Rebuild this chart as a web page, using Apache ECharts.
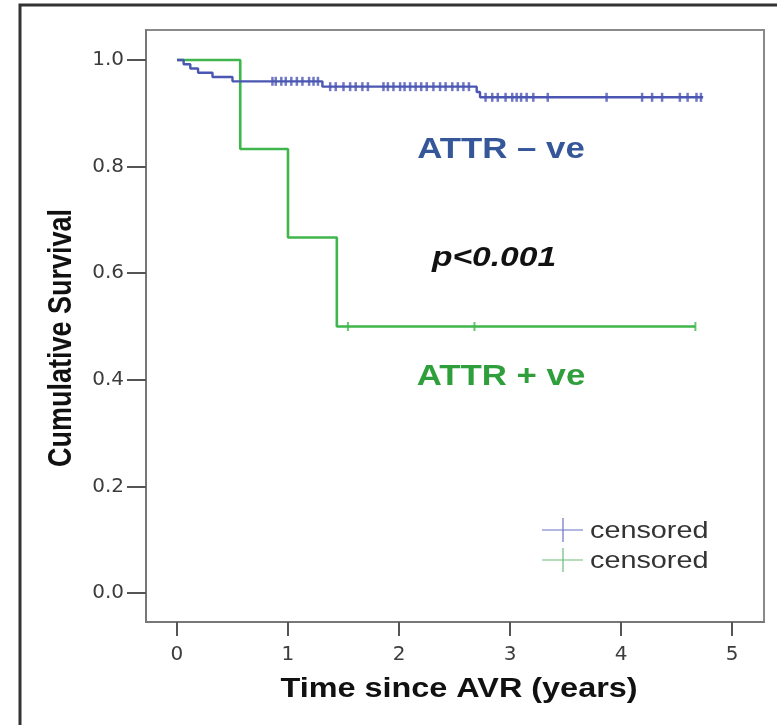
<!DOCTYPE html>
<html>
<head>
<meta charset="utf-8">
<script src="https://cdn.jsdelivr.net/npm/echarts@6/dist/echarts.min.js"></script>
<style>
  html, body { margin: 0; padding: 0; background: #fff; }
  #chart { width: 777px; height: 725px; }
</style>
</head>
<body>
<div id="chart"></div>
<script>
// Kaplan-Meier estimates, time in years since AVR
const negTimes = [0, 0.06, 0.12, 0.19, 0.32, 0.50, 1.31, 2.70, 2.73, 4.74];
const negSurv  = [1.0, 0.992, 0.984, 0.976, 0.968, 0.960, 0.950, 0.940, 0.930, 0.930];
const posTimes = [0, 0.57, 1.00, 1.44, 4.67];
const posSurv  = [1.0, 0.833, 0.667, 0.5, 0.5];

// censoring times
const negCensored = [0.86, 0.89, 0.94, 0.98, 1.03, 1.08, 1.13, 1.19, 1.23, 1.27,
  1.38, 1.43, 1.50, 1.56, 1.61, 1.67, 1.72, 1.86, 1.90, 1.95, 2.01, 2.05, 2.10,
  2.15, 2.20, 2.25, 2.31, 2.37, 2.42, 2.48, 2.53, 2.58, 2.63,
  2.78, 2.84, 2.89, 2.96, 3.02, 3.06, 3.10, 3.15, 3.21, 3.34, 3.87,
  4.19, 4.28, 4.37, 4.53, 4.60, 4.68, 4.72];
const posCensored = [1.54, 2.68, 4.67];

const xTicks = [0, 1, 2, 3, 4, 5];
const yTicks = [0, 0.2, 0.4, 0.6, 0.8, 1.0];

const negColor = '#4b56b3';
const posColor = '#3fb64c';

function curve(times, surv) {
  return times.map((t, i) => [t, surv[i]]);
}
// survival level of a step curve at time t
function levelAt(times, surv, t) {
  let s = surv[0];
  for (let i = 0; i < times.length; i++) {
    if (times[i] <= t) s = surv[i];
  }
  return s;
}
function marks(cens, times, surv) {
  return cens.map(t => [t, levelAt(times, surv, t)]);
}

const chart = echarts.init(document.getElementById('chart'), null, { renderer: 'canvas' });

const txt = (o) => Object.assign({ type: 'text', silent: true }, o);

chart.setOption({
  backgroundColor: '#ffffff',
  animation: false,
  grid: {
    left: 146, top: 30, width: 618, height: 592,
    show: true, borderColor: '#8a8a8a', borderWidth: 2, backgroundColor: '#ffffff'
  },
  xAxis: {
    type: 'value', min: -0.279, max: 5.288,
    splitLine: { show: false },
    axisLine: { show: true, onZero: false, lineStyle: { color: '#777', width: 2 } },
    axisTick: { show: true, customValues: xTicks, length: 14, lineStyle: { color: '#555', width: 2 } },
    axisLabel: {
      customValues: xTicks, margin: 23,
      fontFamily: 'DejaVu Sans', fontSize: 20, color: '#3c3c3c'
    }
  },
  yAxis: {
    type: 'value', min: -0.0544, max: 1.0563,
    splitLine: { show: false },
    axisLine: { show: true, onZero: false, lineStyle: { color: '#777', width: 2 } },
    axisTick: { show: true, customValues: yTicks, length: 19, lineStyle: { color: '#555', width: 2 } },
    axisLabel: {
      customValues: yTicks, margin: 22,
      fontFamily: 'DejaVu Sans', fontSize: 20, color: '#3c3c3c',
      formatter: v => v.toFixed(1)
    }
  },
  series: [
    {
      name: 'ATTR – ve', type: 'line', step: 'end', showSymbol: false,
      data: curve(negTimes, negSurv),
      lineStyle: { color: negColor, width: 2.4 }, z: 3
    },
    {
      name: 'ATTR + ve', type: 'line', step: 'end', showSymbol: false,
      data: curve(posTimes, posSurv),
      lineStyle: { color: posColor, width: 2.6 }, z: 2
    },
    {
      name: 'censored ATTR – ve', type: 'scatter', symbol: 'rect', symbolSize: [2.5, 9],
      data: marks(negCensored, negTimes, negSurv),
      itemStyle: { color: negColor }, z: 4
    },
    {
      name: 'censored ATTR + ve', type: 'scatter', symbol: 'rect', symbolSize: [2, 9],
      data: marks(posCensored, posTimes, posSurv),
      itemStyle: { color: posColor }, z: 4
    }
  ],
  graphic: [
    // outer figure frame
    { type: 'rect', z: -10, silent: true,
      shape: { x: 20, y: 5, width: 800, height: 800 },
      style: { fill: 'none', stroke: '#333', lineWidth: 3 } },
    // axis titles
    txt({ x: 459, y: 690, scaleX: 1.2,
      style: { text: 'Time since AVR (years)', font: 'bold 27px "Liberation Sans"', fill: '#111',
        align: 'center', verticalAlign: 'middle' } }),
    txt({ x: 62, y: 338, rotation: Math.PI / 2, scaleY: 1.2,
      style: { text: 'Cumulative Survival', font: 'bold 27px "Liberation Sans"', fill: '#111',
        align: 'center', verticalAlign: 'middle' } }),
    // group labels and test result
    txt({ x: 501, y: 150, scaleX: 1.2,
      style: { text: 'ATTR – ve', font: 'bold 29px "Liberation Sans"', fill: '#35579a',
        align: 'center', verticalAlign: 'middle' } }),
    txt({ x: 494, y: 258, scaleX: 1.2,
      style: { text: 'p<0.001', font: 'italic bold 28px "Liberation Sans"', fill: '#111',
        align: 'center', verticalAlign: 'middle' } }),
    txt({ x: 501, y: 377, scaleX: 1.2,
      style: { text: 'ATTR + ve', font: 'bold 29px "Liberation Sans"', fill: '#2f9f3c',
        align: 'center', verticalAlign: 'middle' } }),
    // legend
    { type: 'line', silent: true, shape: { x1: 542, y1: 530, x2: 583, y2: 530 },
      style: { stroke: '#6a72c4', lineWidth: 1.2 } },
    { type: 'line', silent: true, shape: { x1: 563, y1: 518, x2: 563, y2: 542 },
      style: { stroke: '#6a72c4', lineWidth: 1.2 } },
    { type: 'line', silent: true, shape: { x1: 542, y1: 560, x2: 583, y2: 560 },
      style: { stroke: '#6dbb78', lineWidth: 1.2 } },
    { type: 'line', silent: true, shape: { x1: 563, y1: 548, x2: 563, y2: 572 },
      style: { stroke: '#6dbb78', lineWidth: 1.2 } },
    txt({ x: 590, y: 531, scaleX: 1.2,
      style: { text: 'censored', font: '24px "Liberation Sans"', fill: '#333',
        align: 'left', verticalAlign: 'middle' } }),
    txt({ x: 590, y: 561, scaleX: 1.2,
      style: { text: 'censored', font: '24px "Liberation Sans"', fill: '#333',
        align: 'left', verticalAlign: 'middle' } })
  ]
});
</script>
</body>
</html>
